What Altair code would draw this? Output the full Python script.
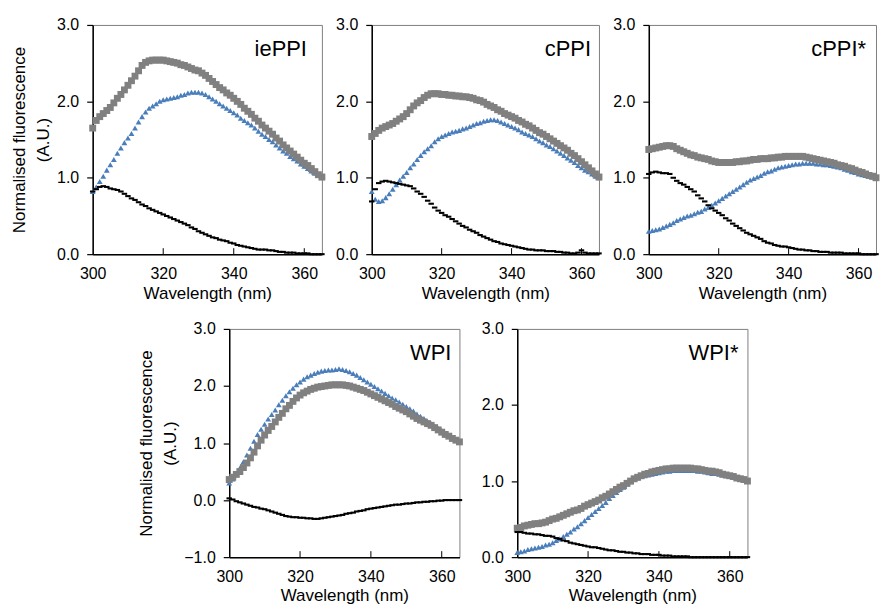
import altair as alt
import pandas as pd

wavelength = list(range(300, 366))
panel_names = ["iePPI", "cPPI", "cPPI*", "WPI", "WPI*"]
y_ticks_std = [0, 1, 2, 3]
y_ticks_wpi = [-1, 0, 1, 2, 3]
x_ticks = [300, 320, 340, 360]

# ---- iePPI ----
ieppi_grey = [1.65, 1.75, 1.80, 1.84, 1.88, 1.92, 1.98, 2.04, 2.09, 2.15,
              2.21, 2.27, 2.33, 2.40, 2.47, 2.51, 2.53, 2.54, 2.54, 2.54,
              2.54, 2.53, 2.52, 2.51, 2.50, 2.48, 2.47, 2.45, 2.43, 2.41,
              2.40, 2.37, 2.34, 2.30, 2.26, 2.22, 2.18, 2.15, 2.11, 2.08,
              2.04, 2.00, 1.96, 1.91, 1.87, 1.83, 1.78, 1.74, 1.69, 1.65,
              1.61, 1.57, 1.52, 1.48, 1.43, 1.39, 1.35, 1.31, 1.27, 1.23,
              1.19, 1.16, 1.12, 1.08, 1.04, 1.01]
ieppi_blue = [0.82, 0.88, 0.95, 1.02, 1.10, 1.17, 1.24, 1.32, 1.39, 1.46,
              1.52, 1.58, 1.65, 1.73, 1.80, 1.86, 1.91, 1.94, 1.97, 2.00,
              2.02, 2.03, 2.04, 2.05, 2.06, 2.08, 2.09, 2.11, 2.12, 2.12,
              2.12, 2.11, 2.09, 2.06, 2.03, 2.00, 1.97, 1.94, 1.91, 1.88,
              1.85, 1.82, 1.78, 1.75, 1.72, 1.69, 1.65, 1.61, 1.57, 1.54,
              1.50, 1.47, 1.43, 1.39, 1.35, 1.32, 1.28, 1.25, 1.22, 1.18,
              1.15, 1.12, 1.09, 1.06, 1.03, 1.00]
ieppi_black = [0.82, 0.85, 0.88, 0.89, 0.88, 0.86, 0.85, 0.84, 0.82, 0.79,
               0.76, 0.73, 0.71, 0.68, 0.65, 0.63, 0.60, 0.58, 0.56, 0.54,
               0.52, 0.50, 0.48, 0.46, 0.44, 0.42, 0.40, 0.38, 0.35, 0.33,
               0.30, 0.28, 0.26, 0.24, 0.22, 0.21, 0.19, 0.18, 0.17, 0.15,
               0.14, 0.12, 0.11, 0.10, 0.09, 0.08, 0.07, 0.06, 0.06, 0.06,
               0.05, 0.05, 0.04, 0.03, 0.03, 0.02, 0.02, 0.02, 0.01, 0.01,
               0.01, 0.01, 0.00, 0.00, 0.00, 0.00]

# ---- cPPI ----
cppi_grey = [1.54, 1.58, 1.62, 1.65, 1.67, 1.69, 1.71, 1.74, 1.77, 1.80,
             1.84, 1.89, 1.94, 1.98, 2.01, 2.05, 2.08, 2.10, 2.10, 2.10,
             2.09, 2.09, 2.08, 2.08, 2.07, 2.07, 2.06, 2.06, 2.05, 2.04,
             2.02, 2.01, 1.99, 1.96, 1.94, 1.92, 1.89, 1.87, 1.84, 1.82,
             1.80, 1.78, 1.75, 1.73, 1.70, 1.68, 1.65, 1.62, 1.59, 1.57,
             1.54, 1.51, 1.48, 1.45, 1.42, 1.39, 1.36, 1.32, 1.29, 1.25,
             1.21, 1.17, 1.13, 1.09, 1.05, 1.01]
cppi_blue = [0.82, 0.72, 0.69, 0.70, 0.74, 0.79, 0.85, 0.91, 0.97, 1.02,
             1.07, 1.13, 1.18, 1.24, 1.29, 1.34, 1.38, 1.42, 1.47, 1.51,
             1.54, 1.56, 1.58, 1.60, 1.61, 1.62, 1.64, 1.65, 1.67, 1.69,
             1.71, 1.72, 1.74, 1.75, 1.76, 1.76, 1.75, 1.73, 1.71, 1.69,
             1.67, 1.65, 1.63, 1.60, 1.58, 1.56, 1.54, 1.51, 1.48, 1.46,
             1.43, 1.41, 1.38, 1.35, 1.32, 1.29, 1.26, 1.23, 1.20, 1.16,
             1.13, 1.10, 1.08, 1.05, 1.02, 1.00]
cppi_black = [0.69, 0.85, 0.93, 0.95, 0.96, 0.95, 0.94, 0.93, 0.92, 0.91,
              0.90, 0.89, 0.86, 0.82, 0.79, 0.75, 0.70, 0.66, 0.61, 0.57,
              0.54, 0.51, 0.49, 0.46, 0.43, 0.40, 0.37, 0.35, 0.32, 0.30,
              0.28, 0.25, 0.23, 0.21, 0.19, 0.17, 0.16, 0.14, 0.13, 0.12,
              0.11, 0.10, 0.09, 0.08, 0.07, 0.06, 0.06, 0.05, 0.05, 0.05,
              0.04, 0.04, 0.04, 0.03, 0.03, 0.02, 0.02, 0.01, 0.01, 0.02,
              0.05, 0.02, 0.01, 0.01, 0.01, 0.01]

# ---- cPPI* ----
cppis_grey = [1.37, 1.38, 1.39, 1.40, 1.41, 1.42, 1.42, 1.41, 1.38, 1.36,
              1.34, 1.32, 1.30, 1.29, 1.27, 1.26, 1.25, 1.24, 1.22, 1.21,
              1.20, 1.20, 1.20, 1.20, 1.20, 1.21, 1.21, 1.22, 1.22, 1.23,
              1.24, 1.24, 1.25, 1.25, 1.25, 1.26, 1.26, 1.27, 1.27, 1.28,
              1.28, 1.28, 1.28, 1.28, 1.28, 1.27, 1.26, 1.25, 1.24, 1.23,
              1.22, 1.21, 1.20, 1.19, 1.17, 1.16, 1.15, 1.13, 1.12, 1.10,
              1.08, 1.07, 1.05, 1.03, 1.02, 1.00]
cppis_blue = [0.30, 0.31, 0.32, 0.33, 0.35, 0.37, 0.39, 0.41, 0.44, 0.46,
              0.48, 0.50, 0.51, 0.53, 0.55, 0.56, 0.59, 0.61, 0.64, 0.67,
              0.70, 0.73, 0.76, 0.79, 0.82, 0.85, 0.88, 0.91, 0.94, 0.97,
              0.99, 1.01, 1.03, 1.06, 1.08, 1.09, 1.11, 1.13, 1.14, 1.15,
              1.16, 1.17, 1.18, 1.18, 1.19, 1.19, 1.19, 1.19, 1.18, 1.18,
              1.17, 1.17, 1.16, 1.15, 1.14, 1.13, 1.11, 1.10, 1.08, 1.07,
              1.05, 1.04, 1.03, 1.02, 1.01, 1.00]
cppis_black = [1.05, 1.07, 1.08, 1.07, 1.06, 1.06, 1.05, 1.00, 0.96, 0.93,
               0.91, 0.88, 0.85, 0.82, 0.77, 0.73, 0.69, 0.64, 0.60, 0.57,
               0.54, 0.51, 0.47, 0.44, 0.40, 0.37, 0.34, 0.31, 0.28, 0.26,
               0.24, 0.22, 0.20, 0.17, 0.15, 0.14, 0.12, 0.11, 0.10, 0.10,
               0.09, 0.08, 0.07, 0.06, 0.06, 0.05, 0.05, 0.04, 0.04, 0.03,
               0.03, 0.03, 0.02, 0.02, 0.02, 0.02, 0.01, 0.01, 0.01, 0.01,
               0.01, 0.00, 0.00, 0.00, 0.00, 0.00]

# ---- WPI ----
wpi_grey = [0.36, 0.40, 0.45, 0.50, 0.57, 0.65, 0.74, 0.84, 0.95, 1.05,
            1.14, 1.22, 1.29, 1.37, 1.45, 1.52, 1.60, 1.66, 1.73, 1.79,
            1.84, 1.88, 1.91, 1.94, 1.96, 1.98, 1.99, 2.00, 2.01, 2.02,
            2.02, 2.02, 2.02, 2.01, 2.00, 1.98, 1.96, 1.94, 1.92, 1.89,
            1.86, 1.83, 1.80, 1.77, 1.74, 1.71, 1.68, 1.64, 1.61, 1.58,
            1.55, 1.51, 1.47, 1.43, 1.40, 1.37, 1.34, 1.31, 1.27, 1.23,
            1.19, 1.15, 1.12, 1.08, 1.05, 1.02]
wpi_blue = [0.30, 0.37, 0.46, 0.56, 0.67, 0.79, 0.91, 1.03, 1.15, 1.24,
            1.33, 1.42, 1.50, 1.58, 1.67, 1.75, 1.83, 1.90, 1.96, 2.02,
            2.07, 2.12, 2.16, 2.19, 2.22, 2.24, 2.26, 2.27, 2.28, 2.28,
            2.29, 2.30, 2.29, 2.27, 2.25, 2.22, 2.19, 2.15, 2.11, 2.07,
            2.03, 1.99, 1.95, 1.91, 1.87, 1.83, 1.79, 1.76, 1.72, 1.68,
            1.64, 1.60, 1.56, 1.51, 1.47, 1.43, 1.38, 1.34, 1.30, 1.26,
            1.22, 1.17, 1.13, 1.09, 1.05, 1.01]
wpi_black = [0.03, 0.01, -0.02, -0.04, -0.06, -0.08, -0.10, -0.12, -0.13, -0.15,
             -0.16, -0.18, -0.20, -0.22, -0.24, -0.26, -0.28, -0.29, -0.30, -0.30,
             -0.31, -0.31, -0.32, -0.32, -0.33, -0.33, -0.32, -0.31, -0.30, -0.29,
             -0.28, -0.27, -0.26, -0.24, -0.23, -0.22, -0.20, -0.19, -0.18, -0.16,
             -0.15, -0.14, -0.13, -0.12, -0.11, -0.10, -0.09, -0.08, -0.08, -0.07,
             -0.06, -0.06, -0.05, -0.04, -0.04, -0.03, -0.03, -0.02, -0.02, -0.01,
             -0.01, 0.00, 0.00, 0.00, 0.00, 0.00]

# ---- WPI* ----
wpis_grey = [0.38, 0.39, 0.41, 0.42, 0.43, 0.44, 0.44, 0.45, 0.46, 0.48,
             0.50, 0.51, 0.53, 0.55, 0.57, 0.59, 0.61, 0.62, 0.64, 0.67,
             0.69, 0.71, 0.73, 0.75, 0.78, 0.80, 0.83, 0.86, 0.89, 0.92,
             0.94, 0.97, 1.00, 1.03, 1.05, 1.07, 1.09, 1.10, 1.12, 1.13,
             1.14, 1.15, 1.16, 1.16, 1.17, 1.17, 1.17, 1.17, 1.17, 1.17,
             1.16, 1.16, 1.15, 1.14, 1.13, 1.13, 1.12, 1.11, 1.09, 1.08,
             1.07, 1.06, 1.04, 1.03, 1.02, 1.00]
wpis_blue = [0.06, 0.07, 0.08, 0.10, 0.11, 0.12, 0.13, 0.14, 0.16, 0.17,
             0.19, 0.22, 0.24, 0.27, 0.30, 0.33, 0.37, 0.40, 0.44, 0.48,
             0.52, 0.56, 0.60, 0.64, 0.68, 0.72, 0.77, 0.81, 0.85, 0.89,
             0.92, 0.96, 0.99, 1.02, 1.04, 1.06, 1.07, 1.08, 1.09, 1.10,
             1.11, 1.12, 1.13, 1.13, 1.14, 1.14, 1.14, 1.14, 1.14, 1.14,
             1.14, 1.13, 1.13, 1.12, 1.11, 1.10, 1.10, 1.09, 1.08, 1.07,
             1.06, 1.05, 1.04, 1.03, 1.01, 1.00]
wpis_black = [0.33, 0.33, 0.32, 0.31, 0.31, 0.30, 0.30, 0.29, 0.28, 0.28,
              0.27, 0.25, 0.24, 0.22, 0.21, 0.19, 0.18, 0.17, 0.16, 0.15,
              0.14, 0.13, 0.13, 0.12, 0.11, 0.10, 0.09, 0.09, 0.08, 0.07,
              0.07, 0.06, 0.06, 0.05, 0.05, 0.04, 0.04, 0.04, 0.03, 0.03,
              0.03, 0.02, 0.02, 0.02, 0.01, 0.01, 0.01, 0.01, 0.01, 0.00,
              0.00, 0.00, 0.00, 0.00, 0.00, 0.00, 0.00, 0.00, 0.00, 0.00,
              0.00, 0.00, 0.00, 0.00, 0.00, 0.00]

FONT = "Liberation Sans"
GREY = "#808080"
BLUE = "#4A7EBB"
DASH = "M-1,-0.38L1,-0.38L1,0.38L-1,0.38Z"


def long_df(grey, blue, black):
    n = len(wavelength)
    return pd.DataFrame({
        "wl": wavelength * 3,
        "value": list(blue) + list(grey) + list(black),
        "series": ["blue"] * n + ["grey"] * n + ["black"] * n,
    })


def panel(name, grey, blue, black, ydom, yvals, ytitle, w, h, label_dx):
    df = long_df(grey, blue, black)
    xenc = alt.X("wl:Q",
                 scale=alt.Scale(domain=[300, 365], nice=False, zero=False),
                 axis=alt.Axis(values=x_ticks, title="Wavelength (nm)", ticks=False,
                               labelPadding=11, titlePadding=4, grid=False,
                               labelFontSize=16, titleFontSize=17,
                               titleFontWeight="normal", domainColor="#000000",
                               domainWidth=1.5, labelColor="#000000",
                               titleColor="#000000", labelFont=FONT, titleFont=FONT,
                               labelFlush=False))
    yaxis = alt.Axis(values=yvals, format=".1f", grid=False, tickSize=6,
                     tickColor="#000000", tickWidth=1.2,
                     labelPadding=8, labelFontSize=16, titleFontSize=17,
                     titleFontWeight="normal", domainColor="#000000",
                     domainWidth=1.5, labelColor="#000000", titleColor="#000000",
                     labelFont=FONT, titleFont=FONT, titlePadding=4,
                     titleLineHeight=24, labelFlush=False)
    if ytitle:
        yenc = alt.Y("value:Q", scale=alt.Scale(domain=ydom, nice=False, zero=False),
                     axis=yaxis, title=["Normalised fluorescence", "(A.U.)"])
    else:
        yenc = alt.Y("value:Q", scale=alt.Scale(domain=ydom, nice=False, zero=False),
                     axis=yaxis, title=None)

    base = alt.Chart(df).encode(x=xenc, y=yenc)
    blue_l = base.transform_filter(alt.datum.series == "blue").mark_point(
        shape="triangle-up", filled=True, size=34, color=BLUE, opacity=1)
    grey_l = base.transform_filter(alt.datum.series == "grey").mark_point(
        shape="square", filled=True, size=48, color=GREY, opacity=1)
    black_l = base.transform_filter(alt.datum.series == "black").mark_point(
        shape=DASH, filled=True, size=30, color="#000000", opacity=1)

    ticks_df = pd.DataFrame({"wl": x_ticks[1:]})
    tick_l = alt.Chart(ticks_df).mark_rule(color="#000000", strokeWidth=1).encode(
        x=alt.X("wl:Q"), y=alt.value(h), y2=alt.value(h - 6))

    lab_df = pd.DataFrame({"label": [name]})
    lab_l = alt.Chart(lab_df).mark_text(
        align="right", baseline="alphabetic", fontSize=22, font=FONT,
        color="#000000").encode(
        text="label:N", x=alt.value(w - label_dx), y=alt.value(31))

    return alt.layer(blue_l, grey_l, black_l, tick_l, lab_l).properties(
        width=w, height=h)


p1 = panel(panel_names[0], ieppi_grey, ieppi_blue, ieppi_black, [0, 3], y_ticks_std, True, 230, 230, 15)
p2 = panel(panel_names[1], cppi_grey, cppi_blue, cppi_black, [0, 3], y_ticks_std, False, 228, 230, 8)
p3 = panel(panel_names[2], cppis_grey, cppis_blue, cppis_black, [0, 3], y_ticks_std, False, 228, 230, 10)
p4 = panel(panel_names[3], wpi_grey, wpi_blue, wpi_black, [-1, 3], y_ticks_wpi, True, 231, 229, 8)
p5 = panel(panel_names[4], wpis_grey, wpis_blue, wpis_black, [0, 3], y_ticks_std, False, 231, 229, 9)

spacer = alt.Chart(pd.DataFrame({"a": [0]})).mark_point(opacity=0).encode(
    x=alt.value(0), y=alt.value(0)).properties(
    width=79, height=229, view=alt.ViewBackground(stroke="transparent"))

top = alt.hconcat(p1, p2, p3, spacing=50, bounds="flush")
bottom = alt.hconcat(spacer, p4, p5, spacing=58, bounds="flush")

chart = alt.vconcat(top, bottom, spacing=18).properties(
    padding={"left": 10, "top": 15, "right": 0, "bottom": 0},
    background="#ffffff",
).configure_view(stroke="#7f7f7f", strokeWidth=1).configure_axis(
    labelFont=FONT, titleFont=FONT)

chart.save("out.html", embed_options={"renderer": "svg", "actions": False})
